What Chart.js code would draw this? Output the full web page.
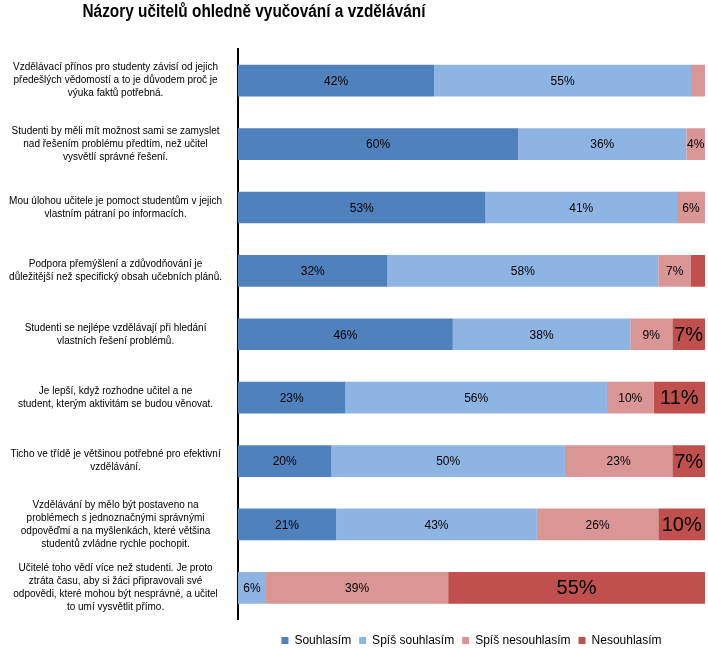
<!DOCTYPE html>
<html>
<head>
<meta charset="utf-8">
<script src="https://cdn.jsdelivr.net/npm/chart.js@4/dist/chart.umd.min.js"></script>
<style>
  body { margin: 0; background: #fff; }
  #wrap { width: 708px; height: 648px; }
</style>
</head>
<body>
<div id="wrap"><canvas id="grafiekCanvas" width="708" height="648"></canvas></div>
<script>
// De titel van de grafiek
const titel = 'Názory učitelů ohledně vyučování a vzdělávání';

// Categorieën (stellingen), elke regel apart
const categories = [
    ['Vzdělávací přínos pro studenty závisí od jejich', 'předešlých vědomostí a to je důvodem proč je', 'výuka faktů potřebná.'],
    ['Studenti by měli mít možnost sami se zamyslet', 'nad řešením problému předtím, než učitel', 'vysvětlí správné řešení.'],
    ['Mou úlohou učitele je pomoct studentům v jejich', 'vlastním pátraní po informacích.'],
    ['Podpora přemýšlení a zdůvodňování je', 'důležitější než specifický obsah učebních plánů.'],
    ['Studenti se nejlépe vzdělávají při hledání', 'vlastních řešení problémů.'],
    ['Je lepší, když rozhodne učitel a ne', 'student, kterým aktivitám se budou věnovat.'],
    ['Ticho ve třídě je většinou potřebné pro efektivní', 'vzdělávání.'],
    ['Vzdělávání by mělo být postaveno na', 'problémech s jednoznačnými správnými', 'odpověďmi a na myšlenkách, které většina', 'studentů zvládne rychle pochopit.'],
    ['Učitelé toho vědí více než studenti. Je proto', 'ztráta času, aby si žáci připravovali své', 'odpovědi, které mohou být nesprávné, a učitel', 'to umí vysvětlit přímo.']
];

// Waarden per antwoord (in procenten)
const souhlasim       = [42, 60, 53, 32, 46, 23, 20, 21, 0];
const spisSouhlasim   = [55, 36, 41, 58, 38, 56, 50, 43, 6];
const spisNesouhlasim = [3, 4, 6, 7, 9, 10, 23, 26, 39];
const nesouhlasim     = [0, 0, 0, 3, 7, 11, 7, 10, 55];

// Namen van de reeksen
const reeksNamen = ['Souhlasím', 'Spíš souhlasím', 'Spíš nesouhlasím', 'Nesouhlasím'];

const fontNaam = '"Liberation Sans", Arial, sans-serif';

// Plugin: titel links-boven tekenen (niet gecentreerd over het hele canvas)
const titelPlugin = {
    id: 'titelPlugin',
    afterDraw(chart) {
        const ctx = chart.ctx;
        ctx.save();
        ctx.font = 'bold 18px ' + fontNaam;
        ctx.fillStyle = '#000';
        ctx.textAlign = 'center';
        ctx.textBaseline = 'alphabetic';
        ctx.fillText(titel, 254, 17, 343);  // maxWidth maakt het smaller
        ctx.restore();
    }
};

// Plugin: legenda een stukje lager zetten
const legendaOmlaag = {
    id: 'legendaOmlaag',
    afterLayout(chart) {
        chart.legend.top += 7;
        chart.legend.bottom += 7;
    }
};

// Plugin: percentages in de balken
const labelPlugin = {
    id: 'labelPlugin',
    afterDatasetsDraw(chart) {
        const ctx = chart.ctx;
        ctx.save();
        ctx.textAlign = 'center';
        ctx.textBaseline = 'middle';
        ctx.fillStyle = '#000';
        chart.data.datasets.forEach((ds, i) => {
            const meta = chart.getDatasetMeta(i);
            ctx.font = (i === 3 ? '20px ' : '12px ') + fontNaam;  // laatste reeks groter
            meta.data.forEach((bar, j) => {
                const waarde = ds.data[j];
                if (waarde < 4) return;  // te smal voor een label
                const p = bar.getCenterPoint();
                ctx.fillText(waarde + '%', p.x, p.y + 1);
            });
        });
        ctx.restore();
    }
};

const ctx = document.getElementById('grafiekCanvas').getContext('2d');
new Chart(ctx, {
    type: 'bar',
    data: {
        labels: categories,
        datasets: [
            { label: reeksNamen[0], data: souhlasim, backgroundColor: '#4F81BD' },
            { label: reeksNamen[1], data: spisSouhlasim, backgroundColor: '#8EB4E3' },
            { label: reeksNamen[2], data: spisNesouhlasim, backgroundColor: '#D99694' },
            { label: reeksNamen[3], data: nesouhlasim, backgroundColor: '#C0504D' }
        ]
    },
    options: {
        indexAxis: 'y',
        responsive: false,
        animation: false,
        layout: { padding: { top: 49, right: 3, left: 0, bottom: -1.5 } },
        datasets: {
            bar: { barPercentage: 0.5, categoryPercentage: 1, borderWidth: 0 }
        },
        scales: {
            x: {
                stacked: true,
                min: 0,
                max: 100,
                display: false
            },
            y: {
                stacked: true,
                grid: { display: false, drawTicks: false },
                border: { display: true, color: '#000', width: 2 },
                ticks: {
                    color: '#000',
                    padding: 16,
                    crossAlign: 'center',
                    font: { family: fontNaam, size: 10, lineHeight: 1.3 }
                },
                afterFit(scale) {
                    scale.width = 238;  // vaste breedte voor de labels
                    scale.paddingTop = 0;
                    scale.paddingBottom = 0;
                }
            }
        },
        plugins: {
            title: { display: false },
            tooltip: { enabled: false },
            legend: {
                position: 'bottom',
                fullSize: false,
                labels: {
                    boxWidth: 7,
                    boxHeight: 7,
                    padding: 8,
                    color: '#000',
                    font: { family: fontNaam, size: 12 }
                }
            }
        }
    },
    plugins: [titelPlugin, legendaOmlaag, labelPlugin]
});
</script>
</body>
</html>
